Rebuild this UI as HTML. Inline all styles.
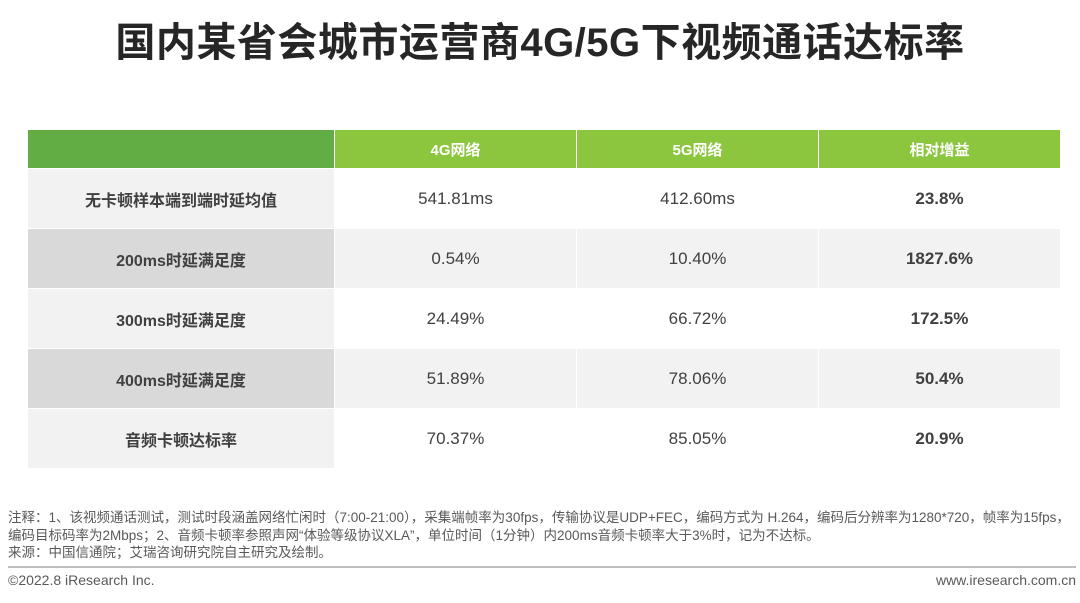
<!DOCTYPE html>
<html><head><meta charset="utf-8"><style>
body{margin:0;width:1080px;height:603px;background:#fff;font-family:"Liberation Sans","Noto Sans CJK SC",sans-serif;position:relative;overflow:hidden;color:#404040}
.title{position:absolute;top:10px;left:0;width:1080px;text-align:center;font-size:40px;font-weight:bold;color:#262626;letter-spacing:0.5px}
table{position:absolute;left:27px;top:129px;border-collapse:collapse;table-layout:fixed}
td{text-align:center;font-size:17px;border:1px solid #fff;padding:0}
tr.h td{height:38px;background:#8cc63f;color:#fff;font-weight:bold;font-size:15px}
tr.h td.f{background:#62ae45}
tr.r td{height:59px}
td.l{font-weight:bold;font-size:16px;color:#404040}
td.b{font-weight:bold;font-size:17px}
.note{position:absolute;left:8px;top:509px;font-size:13.5px;line-height:17.5px;color:#595959;white-space:nowrap}
.line{position:absolute;left:8px;top:566px;width:1068px;height:2px;background:#bfbfbf}
.ft{position:absolute;top:572px;font-size:14px;color:#595959}
</style></head><body>
<div class="title">国内某省会城市运营商4G/5G下视频通话达标率</div>
<table>
<colgroup><col style="width:307px"><col style="width:242px"><col style="width:242px"><col style="width:242px"></colgroup>
<tr class="h"><td class="f"></td><td>4G网络</td><td>5G网络</td><td>相对增益</td></tr>
<tr class="r"><td class="l" style="background:#f2f2f2">无卡顿样本端到端时延均值</td><td>541.81ms</td><td>412.60ms</td><td class="b">23.8%</td></tr>
<tr class="r" style="background:#f2f2f2"><td class="l" style="background:#d9d9d9">200ms时延满足度</td><td>0.54%</td><td>10.40%</td><td class="b">1827.6%</td></tr>
<tr class="r"><td class="l" style="background:#f2f2f2">300ms时延满足度</td><td>24.49%</td><td>66.72%</td><td class="b">172.5%</td></tr>
<tr class="r" style="background:#f2f2f2"><td class="l" style="background:#d9d9d9">400ms时延满足度</td><td>51.89%</td><td>78.06%</td><td class="b">50.4%</td></tr>
<tr class="r"><td class="l" style="background:#f2f2f2">音频卡顿达标率</td><td>70.37%</td><td>85.05%</td><td class="b">20.9%</td></tr>
</table>
<div class="note">注释：1、该视频通话测试，测试时段涵盖网络忙闲时（7:00-21:00），采集端帧率为30fps，传输协议是UDP+FEC，编码方式为 H.264，编码后分辨率为1280*720，帧率为15fps，<br>编码目标码率为2Mbps；2、音频卡顿率参照声网“体验等级协议XLA”，单位时间（1分钟）内200ms音频卡顿率大于3%时，记为不达标。<br>来源：中国信通院；艾瑞咨询研究院自主研究及绘制。</div>
<div class="line"></div>
<div class="ft" style="left:8px">©2022.8 iResearch Inc.</div>
<div class="ft" style="right:4px">www.iresearch.com.cn</div>
</body></html>
